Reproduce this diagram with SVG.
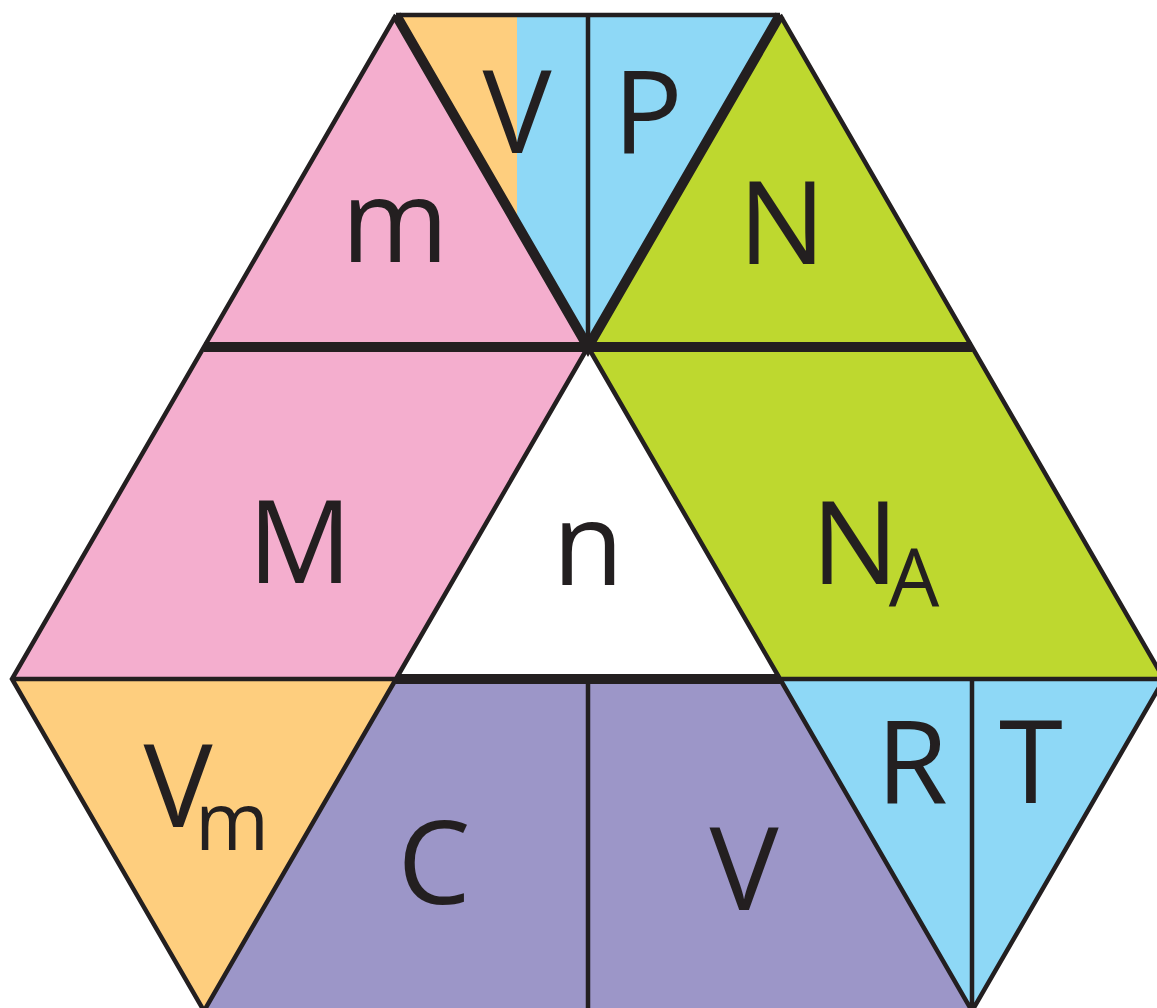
<svg xmlns="http://www.w3.org/2000/svg" width="1157" height="1008" viewBox="0 0 1157 1008">
<style>
.pink{fill:#F4AECE}.green{fill:#BED82F}.blue{fill:#8ED8F6}.orange{fill:#FECE7E}.purple{fill:#9C96C8}.white{fill:#FFFFFF}
.thin{stroke:#231F20;stroke-width:4.5;fill:none;stroke-linejoin:miter}
.thick{stroke:#231F20;stroke-width:10;fill:none}
.lbl{font-family:"Open Sans","Liberation Sans",sans-serif;font-size:116px;fill:#231F20;text-anchor:middle}
.sub{font-family:"Open Sans","Liberation Sans",sans-serif;font-size:80px;fill:#231F20;text-anchor:middle}
</style>
<rect width="1157" height="1008" fill="#FFFFFF"/>
<g id="node-top">
<polygon class="blue" points="396,15 780,15 588,347"/>
<polygon class="orange" points="396,15 517,15 517,224"/>
<text class="lbl" x="517" y="153">V</text>
<text class="lbl" x="648" y="153">P</text>
</g>
<g id="node-m">
<polygon class="pink" points="396,15 204,347 588,347"/>
<text class="lbl" x="395" y="262">m</text>
</g>
<g id="node-N">
<polygon class="green" points="780,15 588,347 972,347"/>
<text class="lbl" x="782" y="264">N</text>
</g>
<g id="node-M">
<polygon class="pink" points="204,347 588,347 396,679 12,679"/>
<text class="lbl" x="300" y="583">M</text>
</g>
<g id="node-n">
<polygon class="white" points="588,347 396,679 780,679"/>
<text class="lbl" x="588" y="585">n</text>
</g>
<g id="node-NA">
<polygon class="green" points="588,347 972,347 1164,679 780,679"/>
<text class="lbl" x="855" y="584">N</text>
<text class="sub" x="914" y="606">A</text>
</g>
<g id="node-Vm">
<polygon class="orange" points="12,679 396,679 204,1011"/>
<text class="lbl" x="178" y="827">V</text>
<text class="sub" x="232" y="850">m</text>
</g>
<g id="node-CV">
<polygon class="purple" points="396,679 780,679 972,1011 204,1011"/>
<text class="lbl" x="434" y="904">C</text>
<text class="lbl" x="744" y="910">V</text>
</g>
<g id="node-RT">
<polygon class="blue" points="780,679 1164,679 972,1011"/>
<text class="lbl" x="912" y="803">R</text>
<text class="lbl" x="1031" y="803">T</text>
</g>
<g id="connectors">
<path class="thin" d="M396,15 H780 M588,15 V347 M396,15 L12,679 L204,1011 M780,15 L1164,679 L972,1011 M12,679 H396 M780,679 H1164 M588,347 L396,679 L204,1011 M588,347 L780,679 L972,1011 M588,679 V1011 M972,679 V1011"/>
<path class="thick" d="M396,15 L588,347 L780,15"/>
<path class="thick" stroke-width="11" d="M204,347 H972 M396,679 H780"/>
</g>
</svg>
